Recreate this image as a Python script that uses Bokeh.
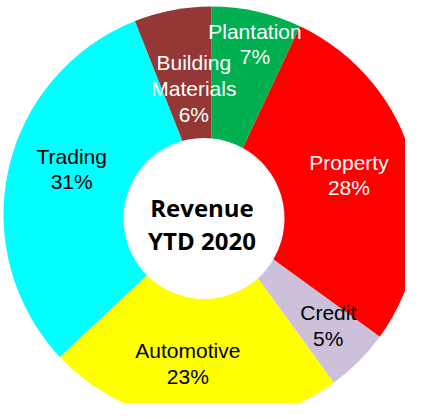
import math
from bokeh.plotting import figure
from bokeh.models import Range1d, ColumnDataSource
from bokeh.embed import file_html
from bokeh.resources import INLINE
from bokeh.core.properties import value

# ---- data ----
categories = ["Plantation", "Property", "Credit", "Automotive", "Trading", "Building\nMaterials"]
shares = [7, 28, 5, 23, 31, 6]
title_lines = ["Revenue", "YTD 2020"]

# ---- styles ----
colors = ["#00B050", "#FF0000", "#CCC0DA", "#FFFF00", "#00FFFF", "#953735"]
label_colors = ["white", "white", "black", "black", "black", "white"]

# ---- layout (data units == pixels) ----
W, H = 405, 403
CX, CY, R_OUT = 211, 189, 208
HOLE_X, HOLE_Y, R_HOLE = 203.5, 185, 80.5
label_angle_deg = [14.3, 74, 133.5, 189, 288, 352]
label_r = [176, 143, 161, 151, 147, 127]
title_dy = [11, -22]
title_dx = -2

total = float(sum(shares))
starts, ends = [], []
cum = 0.0
for s in shares:
    starts.append(math.pi / 2 - 2 * math.pi * cum / total)
    cum += s
    ends.append(math.pi / 2 - 2 * math.pi * cum / total)

src = ColumnDataSource(dict(start=starts, end=ends, color=colors))

p = figure(width=W, height=H, x_range=Range1d(0, W), y_range=Range1d(0, H),
           output_backend="svg", toolbar_location=None, min_border=0)
p.axis.visible = False
p.grid.visible = False
p.outline_line_color = None
p.background_fill_color = "white"
p.border_fill_color = "white"

p.wedge(x=CX, y=CY, radius=R_OUT, start_angle="start", end_angle="end", direction="clock",
        fill_color="color", line_color=None, source=src)
p.circle(x=HOLE_X, y=HOLE_Y, radius=R_HOLE, fill_color="white", line_color=None)

lx = [CX + r * math.sin(math.radians(a)) for a, r in zip(label_angle_deg, label_r)]
ly = [CY + r * math.cos(math.radians(a)) for a, r in zip(label_angle_deg, label_r)]
ltext = [f"{c}\n{s}%" for c, s in zip(categories, shares)]
lsrc = ColumnDataSource(dict(x=lx, y=ly, text=ltext, color=label_colors))
p.text(x="x", y="y", text="text", text_color="color", source=lsrc,
       text_align="center", text_baseline="middle", text_font=value("Liberation Sans"),
       text_font_size="21px", text_line_height=1.12)

tsrc = ColumnDataSource(dict(x=[HOLE_X + title_dx] * len(title_lines),
                             y=[HOLE_Y + d for d in title_dy], text=title_lines))
p.text(x="x", y="y", text="text", source=tsrc, text_color="black",
       text_align="center", text_baseline="middle", text_font=value("Open Sans"),
       text_font_style="bold", text_font_size="24px")

open("out.html", "w").write(file_html(p, INLINE))
